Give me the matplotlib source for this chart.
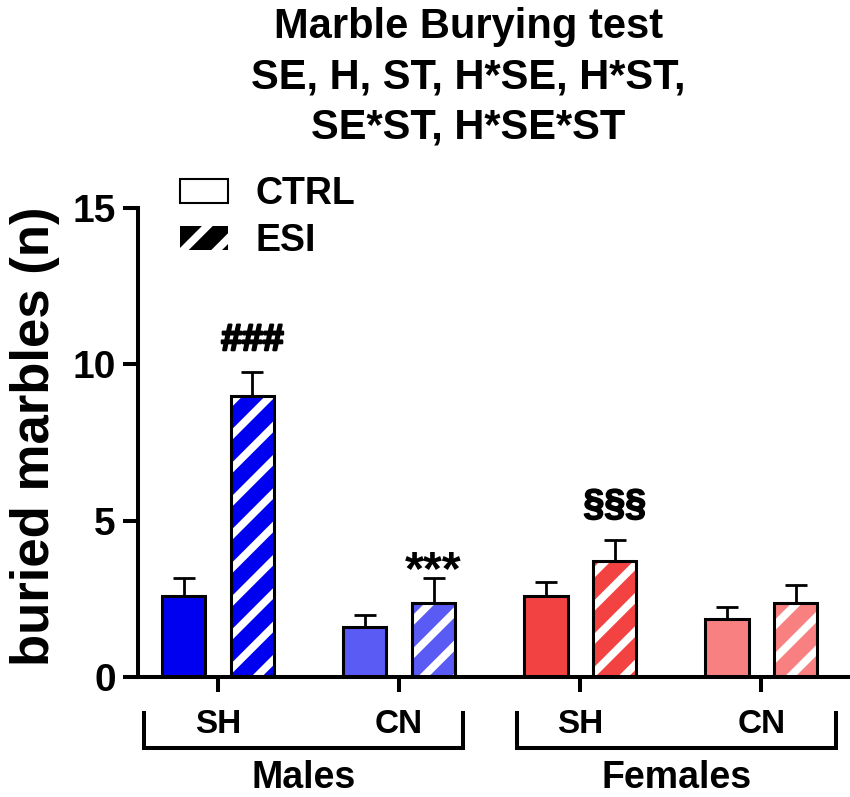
import numpy as np
import matplotlib
matplotlib.use("Agg")
import matplotlib.pyplot as plt
import matplotlib.patheffects as pe
from matplotlib.patches import Patch

# valeurs (moyenne +/- SEM)
housing = ["SH", "CN", "SH", "CN"]
sex_groups = ["Males", "Females"]
ctrl_mean = [2.6, 1.6, 2.6, 1.85]
ctrl_sem = [0.55, 0.38, 0.45, 0.38]
esi_mean = [9.0, 2.35, 3.7, 2.35]
esi_sem = [0.74, 0.83, 0.67, 0.58]
bar_colors = ["#0000F0", "#5A5AF5", "#F24242", "#F88080"]
marks = ["###", "***", "§§§", ""]
title_lines = ["Marble Burying test", "SE, H, ST, H*SE, H*ST,", "SE*ST, H*SE*ST"]

plt.rcParams['font.family'] = ['Liberation Sans', 'DejaVu Sans']
plt.rcParams['font.weight'] = 'bold'
plt.rcParams['axes.labelweight'] = 'bold'
plt.rcParams['hatch.linewidth'] = 5.5

fig = plt.figure(figsize=(8.5, 7.97), dpi=100)
ax = fig.add_axes([0.1624, 0.1506, 0.8376, 0.5885])

x = np.arange(len(housing))
w = 0.24
off = 0.19

# barres CTRL pleines, ESI hachurées
ax.bar(x - off, ctrl_mean, w, color=bar_colors, edgecolor='black', linewidth=2.2, zorder=2)
ax.bar(x + off, esi_mean, w, color=bar_colors, edgecolor='white', hatch='/', linewidth=0, zorder=2)
ax.bar(x + off, esi_mean, w, fill=False, edgecolor='black', linewidth=2.2, zorder=3)

zeros = np.zeros(len(x))
ax.errorbar(x - off, ctrl_mean, yerr=[zeros, ctrl_sem], fmt='none', ecolor='black',
            elinewidth=2, capsize=8, capthick=2, zorder=1)
ax.errorbar(x + off, esi_mean, yerr=[zeros, esi_sem], fmt='none', ecolor='black',
            elinewidth=2, capsize=8, capthick=2, zorder=1)

# étoiles / dièses au-dessus des barres ESI
mark_dy = [16, -5, 18, 0]
mark_size = [27, 35, 27, 27]
mark_stroke = [1.6, 0, 1.2, 0]
for xi, m, s, t, dy, fs, sw in zip(x + off, esi_mean, esi_sem, marks, mark_dy, mark_size, mark_stroke):
    txt = ax.annotate(t, (xi, m + s), xytext=(0, dy), textcoords='offset points',
                      ha='center', va='baseline', fontsize=fs)
    if sw > 0:
        txt.set_path_effects([pe.withStroke(linewidth=sw, foreground='black')])

ax.set_ylim(0, 15)
ax.set_yticks([0, 5, 10, 15])
ax.set_xlim(-0.442, 3.49)
ax.set_xticks(x, housing)
ax.spines[['top', 'right']].set_visible(False)
for s in ['left', 'bottom']:
    ax.spines[s].set_linewidth(2.9)
ax.tick_params(width=2.9, length=11, labelsize=28, pad=5)
ax.tick_params(axis='x', labelsize=24, pad=12)

ax.set_ylabel('buried marbles (n)', fontsize=38)
ax.yaxis.set_label_coords(-0.109, 0.513)

# accolades Males / Females
trans = ax.get_xaxis_transform()
spans = [(x[0] - 0.41, x[1] + 0.35), (x[2] - 0.35, x[3] + 0.41)]
for (a, b), name in zip(spans, sex_groups):
    ax.plot([a, a, b, b], [-0.077, -0.151, -0.151, -0.077], transform=trans,
            color='black', lw=2.9, clip_on=False, solid_joinstyle='miter')
    ax.text((a + b) / 2, -0.237, name, transform=trans, ha='center',
            va='baseline', fontsize=27)

handles = [Patch(facecolor='white', edgecolor='black', linewidth=1.5, label='CTRL'),
           Patch(facecolor='black', edgecolor='white', hatch='/', linewidth=0, label='ESI')]
ax.legend(handles=handles, loc='upper left', bbox_to_anchor=(180 / 850, 1 - 176 / 797),
          bbox_transform=fig.transFigure, frameon=False, fontsize=27,
          handlelength=1.27, handleheight=0.6, handletextpad=0.75,
          labelspacing=0.3, borderpad=0, borderaxespad=0)

for i, line in enumerate(title_lines):
    fig.text(0.551, 0.952 - i * 0.0627, line, ha='center', va='baseline', fontsize=30)

fig.savefig('out.png', dpi=100)
